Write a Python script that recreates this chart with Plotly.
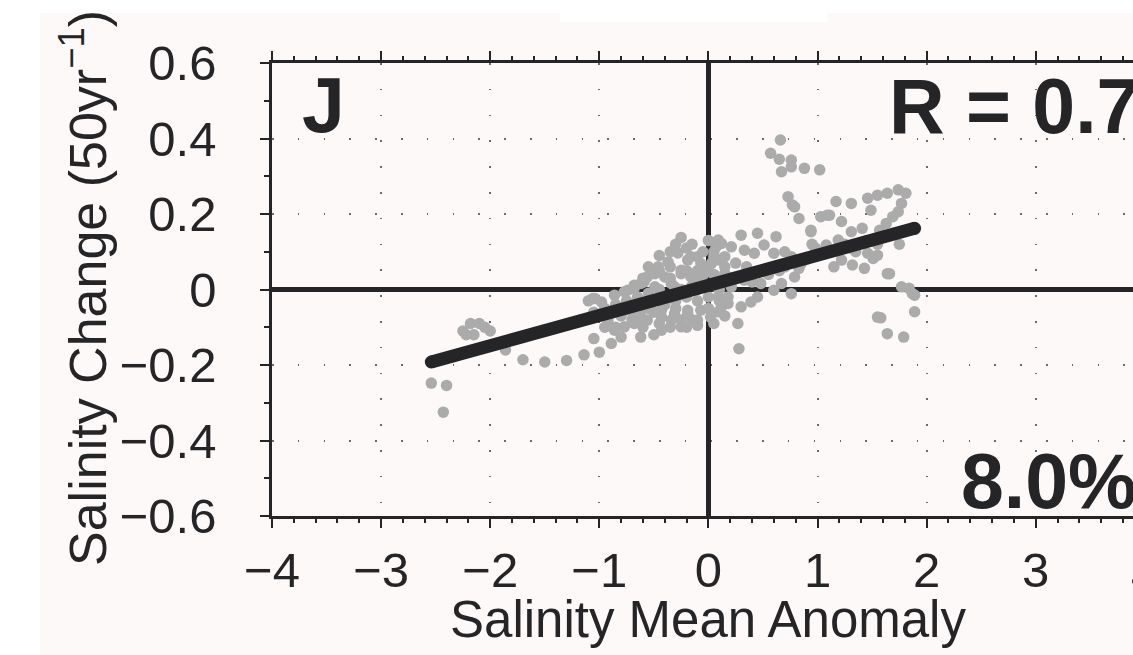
import plotly.graph_objects as go

# ---- data -------------------------------------------------------------
# salinity mean anomaly (x) vs. salinity change per 50 yr (y)
anomaly = [
    -2.54, -2.40, -2.43,
    -2.25, -2.18, -2.10, -2.05, -2.15, -2.22, -2.00,
    -1.86, -1.70, -1.50, -1.30, -1.14, -1.00,
    -0.89, -0.86, -0.92,
    -1.10, -1.06, -1.04, -0.98, -0.86, -0.77, -0.74, -0.68, -0.68, -0.62, -0.59,
    -0.56, -0.49, -0.48, -0.46, -0.49, -0.40, -0.37, -0.34, -0.31, -0.28, -0.25,
    -0.25, -0.25, -0.19, -0.16, -0.16, -0.13, -0.10, -0.07, -0.04,
    -0.80, -0.77, -0.68, -0.62, -0.62, -0.56, -0.43, -0.43, -0.43, -0.34, -0.31,
    -0.25, -0.25, -0.19, -0.19, -0.10, -0.10, -0.07, 0.02, 0.12, 0.09, 0.18,
    0.18, 0.09,
    -0.90, -0.70, -0.50, -0.30, -0.10, 0.05, 0.25, 0.50, 0.70, 1.00, 1.30, 1.60,
    0.05, 0.07, 0.09, 0.10, 0.12, 0.15, 0.15, 0.21, 0.30, 0.33, 0.42, 0.45,
    0.51, 0.60, 0.62, 0.76, 0.85, 0.94, 0.98, 1.03, 1.11,
    0.66, 0.57, 0.65, 0.76, 0.67, 0.76, 0.88, 1.02, 0.73, 0.77, 0.79, 0.83, 0.94,
    0.30, 0.39, 0.45, 0.60, 0.76, 0.67, 0.79, 0.83, 0.33, 0.48, 0.27, 0.28, 0.21,
    1.17, 1.31, 1.46, 1.55, 1.64, 1.74, 1.81, 1.77, 1.74, 1.69, 1.63, 1.57, 1.49,
    1.22, 1.09, 1.31, 1.41, 1.19, 1.08,
    1.22, 1.32, 1.43, 1.51, 1.55, 1.46, 1.66, 1.64, 1.77, 1.84, 1.89, 1.87,
    1.89, 1.55, 1.58, 1.64, 1.79,
    -1.05, -0.95, -0.85, -0.80, -0.75, -0.70, -0.65, -0.60, -0.55, -0.50,
    -0.45, -0.40, -0.35, -0.30, -0.25, -0.20, -0.15, -0.10, -0.05, 0.00,
    0.05, 0.10, 0.15, 0.20, 0.25, 0.35, 0.40, 0.55, 0.65, 0.70,
    0.90, 0.95, 1.10, 1.15, 1.25, 1.35, 1.45, 1.55, 1.70, 1.75,
    -0.55, -0.45, -0.30, -0.20, -0.05, 0.00, 0.03,
    -0.60, -0.50, -0.35, -0.15, 0.05, 0.15, -0.95, -1.05,
    -0.45, -0.35, -0.20, -0.10, 0.00, 0.05, -0.55, -0.45, -0.30, -0.20,
    0.00, 0.10, -0.70, -0.85, -0.60, -0.15, -0.35,
]
change = [
    -0.248, -0.254, -0.325,
    -0.110, -0.090, -0.090, -0.100, -0.120, -0.120, -0.110,
    -0.160, -0.186, -0.192, -0.188, -0.173, -0.166,
    -0.143, -0.108, -0.081,
    -0.030, -0.024, -0.024, -0.033, -0.015, -0.006, -0.002, 0.003, 0.011, 0.016, 0.020,
    0.033, 0.042, 0.047, 0.060, 0.007, 0.033, 0.073, 0.016, 0.007, 0.097, 0.138,
    0.051, 0.042, 0.078, 0.033, 0.087, 0.033, 0.087, 0.069, 0.042,
    -0.126, -0.099, -0.090, -0.126, -0.073, -0.081, -0.073, -0.108, -0.055, -0.081, -0.064,
    -0.081, -0.099, -0.055, -0.064, -0.081, -0.095, -0.055, -0.073, -0.046, -0.059, -0.037,
    -0.020, -0.020,
    -0.060, -0.045, -0.030, -0.010, 0.000, 0.010, 0.030, 0.050, 0.060, 0.090, 0.110, 0.140,
    0.087, 0.113, 0.131, 0.078, 0.122, 0.087, 0.042, 0.113, 0.144, 0.104, 0.096, 0.149,
    0.118, 0.096, 0.140, 0.087, 0.069, 0.153, 0.110, 0.193, 0.197,
    0.396, 0.361, 0.345, 0.343, 0.312, 0.325, 0.321, 0.317, 0.246, 0.224, 0.219, 0.188, 0.157,
    -0.046, -0.033, -0.020, -0.002, -0.011, 0.016, 0.033, 0.056, 0.025, 0.016, -0.090, -0.157, 0.007,
    0.233, 0.228, 0.242, 0.250, 0.255, 0.264, 0.255, 0.228, 0.206, 0.193, 0.175, 0.157, 0.210,
    0.180, 0.197, 0.153, 0.162, 0.131, 0.118,
    0.078, 0.065, 0.056, 0.082, 0.091, 0.096, 0.042, 0.042, 0.007, 0.003, -0.015, -0.011,
    -0.059, -0.073, -0.075, -0.117, -0.126,
    -0.060, -0.050, -0.040, -0.070, -0.030, -0.080, -0.020, -0.050, -0.010, -0.060,
    0.000, -0.040, 0.030, -0.030, 0.000, -0.020, 0.010, -0.030, 0.020, -0.020,
    0.040, 0.000, 0.060, 0.030, 0.070, 0.060, 0.020, 0.040, 0.050, 0.100,
    0.080, 0.120, 0.100, 0.060, 0.120, 0.100, 0.130, 0.120, 0.150, 0.120,
    0.060, 0.090, 0.120, 0.110, 0.100, 0.130, 0.070,
    -0.100, -0.120, -0.100, -0.080, -0.090, -0.070, -0.100, -0.130,
    0.050, 0.060, 0.050, 0.050, 0.060, 0.100, -0.050, -0.090, -0.050, -0.100,
    -0.050, -0.030, -0.060, -0.100, 0.030, 0.120, 0.100,
]

# least-squares fit, drawn between its end points
fit_x = [-2.54, 1.89]
fit_y = [-0.192, 0.162]

x_ticks = [-4, -3, -2, -1, 0, 1, 2, 3]
x_ticktext = ["\u22124", "\u22123", "\u22122", "\u22121", "0", "1", "2", "3"]
y_ticks = [-0.6, -0.4, -0.2, 0, 0.2, 0.4, 0.6]
y_ticktext = ["\u22120.6", "\u22120.4", "\u22120.2", "0", "0.2", "0.4", "0.6"]

panel_label = "J"
r_label = "R = 0.7"
pct_label = "8.0%"
x_title = "Salinity Mean Anomaly"
y_title = "Salinity Change (50yr<sup>\u22121</sup>)"

# ---- geometry ---------------------------------------------------------
W, H = 1133, 655
L, T, B = 272, 63, 139
PX_PER_X = 109.1
x_hi = -4 + (W - L) / PX_PER_X   # panel continues past the right edge

def xp(px):
    return (px - L) / (W - L)

def yp(py):
    return (H - B - py) / (H - T - B)

INK = "#252527"
FONT = "Liberation Sans, Arial, Helvetica, sans-serif"
BG = "#fcf9f8"

fig = go.Figure()

fig.add_trace(go.Scatter(
    x=anomaly, y=change, mode="markers",
    marker=dict(size=11.5, color="#ababab", line=dict(width=0)),
    hoverinfo="skip", showlegend=False,
))
fig.add_trace(go.Scatter(
    x=fit_x, y=fit_y, mode="lines+markers",
    line=dict(color=INK, width=13),
    marker=dict(size=13, color=INK, line=dict(width=0)),
    hoverinfo="skip", showlegend=False,
))

axis_common = dict(
    showline=True, linecolor=INK, linewidth=2.5,
    ticks="outside", ticklen=9, tickwidth=2, tickcolor=INK,
    tickfont=dict(family=FONT, size=49, color=INK),
    showgrid=True, gridcolor="#6a6a6a", gridwidth=1.5, griddash="1.5px,24.3px",
    zeroline=True, zerolinecolor=INK, zerolinewidth=4.5,
)

fig.update_xaxes(
    range=[-4, x_hi], tickvals=x_ticks, ticktext=x_ticktext,
    mirror="ticks", ticklabelstandoff=0,
    minor=dict(dtick=0.2, tick0=0, ticks="outside", ticklen=4.5, tickwidth=1.5,
               tickcolor=INK, showgrid=False),
    **axis_common,
)
fig.update_yaxes(
    range=[-0.6, 0.6], tickvals=y_ticks, ticktext=y_ticktext,
    mirror=False, ticklabelstandoff=34,
    minor=dict(dtick=0.1, tick0=0, ticks="outside", ticklen=5, tickwidth=1.5,
               tickcolor=INK, showgrid=False),
    **axis_common,
)

annotations = [
    dict(text=f"<b>{panel_label}</b>", x=xp(323.5), y=yp(104.5), xanchor="center",
         yanchor="middle", font=dict(family=FONT, size=77, color=INK)),
    dict(text=f"<b>{r_label}</b>", x=xp(888), y=yp(105.5), xanchor="left",
         yanchor="middle", font=dict(family=FONT, size=77, color=INK)),
    dict(text=f"<b>{pct_label}</b>", x=xp(960), y=yp(480.5), xanchor="left",
         yanchor="middle", font=dict(family=FONT, size=77, color=INK)),
    # the "4" tick label just past the right edge
    dict(text="4", x=xp(L + 8 * PX_PER_X), y=yp(574), xanchor="center",
         yanchor="middle", font=dict(family=FONT, size=49, color=INK)),
    dict(text=x_title, x=xp(707.5), y=yp(619.5), xanchor="center",
         yanchor="middle", font=dict(family=FONT, size=51, color=INK)),
    dict(text=y_title, x=xp(84), y=yp(288), textangle=-90, xanchor="center",
         yanchor="middle", font=dict(family=FONT, size=52, color=INK)),
]
for a in annotations:
    a.update(xref="paper", yref="paper", showarrow=False, borderpad=0)

fig.update_layout(
    width=W, height=H,
    margin=dict(l=L, r=0, t=T, b=B, pad=0),
    paper_bgcolor="white", plot_bgcolor="rgba(0,0,0,0)",
    annotations=annotations,
    shapes=[
        dict(type="rect", xref="paper", yref="paper", layer="below",
             x0=xp(40), x1=xp(W + 20), y0=yp(H + 20), y1=yp(13),
             fillcolor=BG, line=dict(width=0)),
        dict(type="rect", xref="paper", yref="paper", layer="below",
             x0=xp(560), x1=xp(827), y0=yp(22), y1=yp(12),
             fillcolor="white", line=dict(width=0)),
    ],
)

fig.write_html("out.html")
